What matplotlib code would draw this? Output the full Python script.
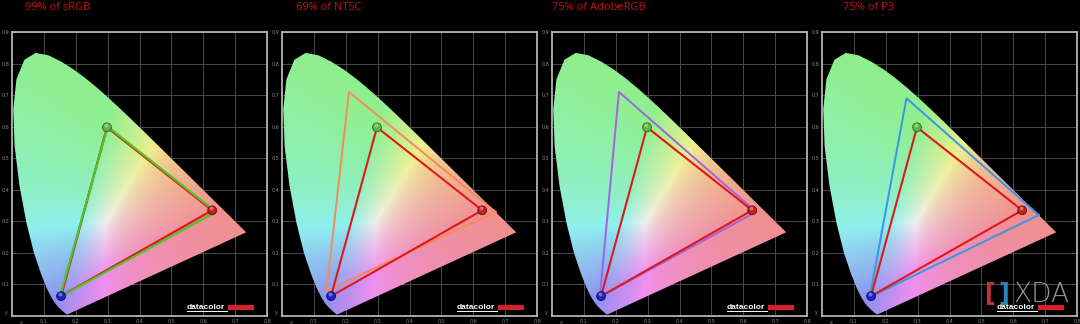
import numpy as np
import matplotlib
matplotlib.use("Agg")
import matplotlib.pyplot as plt
from matplotlib.patches import Polygon, Rectangle

# CIE 1931 spectral locus (x, y), 380..700 nm
locus_x = [0.1741, 0.1733, 0.1714, 0.1689, 0.1644, 0.1566, 0.1510, 0.1440, 0.1355,
           0.1241, 0.1096, 0.0913, 0.0687, 0.0454, 0.0235, 0.0082, 0.0039, 0.0139,
           0.0389, 0.0743, 0.1142, 0.1547, 0.1929, 0.2296, 0.2658, 0.3016, 0.3373,
           0.3731, 0.4087, 0.4441, 0.4788, 0.5125, 0.5448, 0.5752, 0.6029, 0.6270,
           0.6658, 0.6915, 0.7079, 0.7190, 0.7260, 0.7300, 0.7334, 0.7347]
locus_y = [0.0050, 0.0048, 0.0051, 0.0069, 0.0109, 0.0177, 0.0227, 0.0297, 0.0399,
           0.0578, 0.0868, 0.1327, 0.2007, 0.2950, 0.4127, 0.5384, 0.6548, 0.7502,
           0.8120, 0.8338, 0.8262, 0.8059, 0.7816, 0.7543, 0.7243, 0.6923, 0.6589,
           0.6245, 0.5896, 0.5547, 0.5202, 0.4866, 0.4544, 0.4242, 0.3965, 0.3725,
           0.3340, 0.3083, 0.2920, 0.2809, 0.2740, 0.2700, 0.2666, 0.2653]

# measured display primaries (R, G, B)
meas_x = [0.628, 0.298, 0.154]
meas_y = [0.335, 0.598, 0.063]

titles = ["99% of sRGB", "69% of NTSC", "75% of AdobeRGB", "75% of P3"]
ref_x = [[0.64, 0.30, 0.15], [0.67, 0.21, 0.14], [0.64, 0.21, 0.15], [0.68, 0.265, 0.15]]
ref_y = [[0.33, 0.60, 0.06], [0.33, 0.71, 0.08], [0.33, 0.71, 0.06], [0.32, 0.69, 0.06]]
ref_colors = ["#4cc42a", "#f58a5a", "#a064e0", "#3a96e0"]
title_x = [25, 296, 552, 843]

xticks = [0.1, 0.2, 0.3, 0.4, 0.5, 0.6, 0.7, 0.8]
yticks = [0.1, 0.2, 0.3, 0.4, 0.5, 0.6, 0.7, 0.8, 0.9]


def chroma_image(nx=420, ny=470):
    xs = np.linspace(0, 0.8, nx)
    ys = np.linspace(0, 0.9, ny)
    X, Y = np.meshgrid(xs, ys)
    Y = np.maximum(Y, 1e-3)
    XYZ = np.stack([X / Y, np.ones_like(X), (1 - X - Y) / Y], axis=-1)
    M = np.array([[3.2406, -1.5372, -0.4986],
                  [-0.9689, 1.8758, 0.0415],
                  [0.0557, -0.2040, 1.0570]])
    rgb = XYZ @ M.T
    rgb = np.clip(rgb, 0, None)
    rgb[..., 2] *= 0.75   # less magenta, more salmon like the datacolor plot
    rgb = rgb / np.maximum(rgb.max(axis=-1, keepdims=True), 1e-6)
    rgb = rgb ** 0.8
    w = 0.6
    rgb = 0.94 * (w + (1 - w) * rgb)
    return np.clip(rgb, 0, 1)


img = chroma_image()

fig = plt.figure(figsize=(10.8, 3.24), dpi=100, facecolor="black")

for i in range(4):
    left = (12 + 270 * i) / 1080
    ax = fig.add_axes([left, 8 / 324, 255 / 1080, 284 / 324])
    ax.set_facecolor("black")
    ax.set_xlim(0, 0.8)
    ax.set_ylim(0, 0.9)

    im = ax.imshow(img, origin="lower", extent=[0, 0.8, 0, 0.9], aspect="auto",
                   interpolation="bilinear", zorder=1)
    poly = Polygon(list(zip(locus_x, locus_y)), closed=True, transform=ax.transData,
                   facecolor="none", edgecolor="none")
    ax.add_patch(poly)
    im.set_clip_path(poly)

    ax.set_xticks(xticks)
    ax.set_yticks(yticks)
    ax.set_xticklabels([str(t) for t in xticks])
    ax.set_yticklabels([str(t) for t in yticks])
    ax.tick_params(length=0, labelsize=3.5, labelcolor="#8a8a8a", pad=2)
    ax.grid(True, color="#4a4a4a", lw=0.7)
    ax.set_axisbelow(True)
    for s in ax.spines.values():
        s.set_color("#b4b4b4")
        s.set_linewidth(1.3)
    ax.text(0.03, -0.012, "x", fontsize=3.5, color="#8a8a8a", ha="center", va="top",
            clip_on=False)
    ax.text(-0.012, 0.012, "y", fontsize=3.5, color="#8a8a8a", ha="right", va="center",
            clip_on=False)

    # measured gamut and reference gamut
    rx = ref_x[i] + [ref_x[i][0]]
    ry = ref_y[i] + [ref_y[i][0]]
    mx = meas_x + [meas_x[0]]
    my = meas_y + [meas_y[0]]
    if i == 0:
        ax.plot(mx, my, color="#e01818", lw=1.6, zorder=3)
        ax.plot(rx, ry, color=ref_colors[i], lw=1.6, zorder=4)
    else:
        ax.plot(rx, ry, color=ref_colors[i], lw=1.4, zorder=3)
        ax.plot(mx, my, color="#e01818", lw=1.5, zorder=4)

    # primaries as little balls
    ball_cols = ["#c81e1e", "#5cb840", "#1e24c8"]
    edge_cols = ["#6a0a0a", "#2a6a1a", "#0a0a60"]
    ax.scatter(meas_x, meas_y, s=40, c=ball_cols, edgecolors=edge_cols, linewidths=0.6,
               zorder=5)
    ax.scatter(np.array(meas_x) - 0.004, np.array(meas_y) + 0.006, s=8,
               c="white", alpha=0.35, linewidths=0, zorder=6)

    # datacolor logo
    ax.text(0.686, 0.025, "datacolor", transform=ax.transAxes, fontsize=6,
            fontweight="bold", family="Liberation Sans", color="white",
            ha="left", va="baseline", zorder=7)
    ax.plot([0.686, 0.845], [0.019, 0.019], transform=ax.transAxes, color="white",
            lw=0.7, zorder=7)
    ax.add_patch(Rectangle((0.847, 0.022), 0.102, 0.016, transform=ax.transAxes,
                           facecolor="#d8202a", edgecolor="none", zorder=7))

    fig.text(title_x[i] / 1080, 1 - 8 / 324, titles[i], fontsize=8, family="Open Sans",
             color="#c81414", ha="left", va="center")

# XDA watermark
fig.text(985 / 1080, 1 - 294 / 324, "[", fontsize=17, color="#c03040", ha="left",
         va="center", fontweight="bold")
fig.text(998 / 1080, 1 - 294 / 324, "]", fontsize=17, color="#2a86b8", ha="left",
         va="center", fontweight="bold")
fig.text(1013 / 1080, 1 - 294 / 324, "XDA", fontsize=19, color="#a4a4aa", alpha=0.9,
         ha="left", va="center", fontweight="light")

fig.savefig("out.png", dpi=100, facecolor="black")
